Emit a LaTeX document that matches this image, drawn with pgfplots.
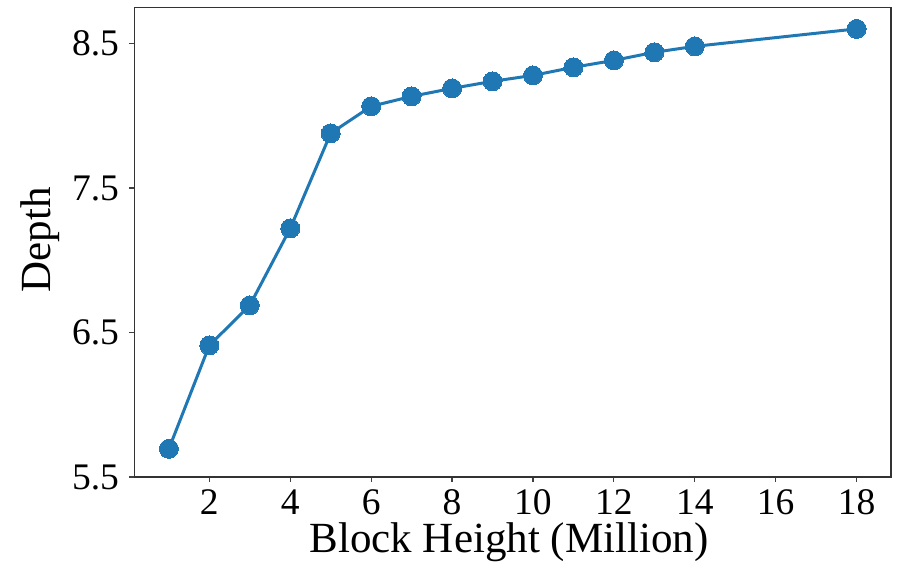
\documentclass[border=0pt]{standalone}
\usepackage{pgfplots}
\pgfplotsset{compat=1.18}
\usepackage{fontspec}
\setmainfont{Liberation Serif}
\definecolor{mplblue}{HTML}{1F77B4}
\begin{document}
\begin{tikzpicture}
\begin{axis}[
  scale only axis,
  width=756.5pt, height=469.5pt,
  xmin=0.15, xmax=18.85,
  ymin=5.5, ymax=8.75,
  xtick={2,4,...,18},
  ytick={5.5,6.5,7.5,8.5},
  yticklabel style={/pgf/number format/fixed, /pgf/number format/fixed zerofill, /pgf/number format/precision=1},
  /pgf/number format/assume math mode=true,
  tick align=outside,
  tick pos=left,
  major tick length=5pt,
  every tick/.style={line width=1.2pt, black!75},
  axis line style={line width=1.3pt, black!80},
  tick label style={font=\fontsize{37.5}{42}\selectfont},
  label style={font=\fontsize{43}{48}\selectfont},
  xlabel={Block Height (Million)},
  ylabel={Depth},
  xlabel style={at={(axis description cs:0.495,0)}, anchor=north, inner sep=0pt, yshift=-45.5pt},
  ylabel style={at={(axis description cs:-0.125,0.505)}, anchor=center},
  xticklabel style={inner sep=0pt, yshift=-7.3pt},
  yticklabel style={xshift=-7pt},
]
\addplot[color=mplblue, line width=3pt, mark=*, mark size=9.5pt, mark options={fill=mplblue, draw=mplblue, line width=0pt}]
coordinates {
(1,5.695) (2,6.411) (3,6.688) (4,7.221) (5,7.879) (6,8.066) (7,8.135) (8,8.190) (9,8.239) (10,8.280) (11,8.336) (12,8.384) (13,8.440) (14,8.481) (18,8.602)
};
\end{axis}
\pgfresetboundingbox
\path ([shift={(-134.5pt,7.5pt)}]current axis.north west) rectangle ([shift={(12pt,-95pt)}]current axis.south east);
\end{tikzpicture}
\end{document}
